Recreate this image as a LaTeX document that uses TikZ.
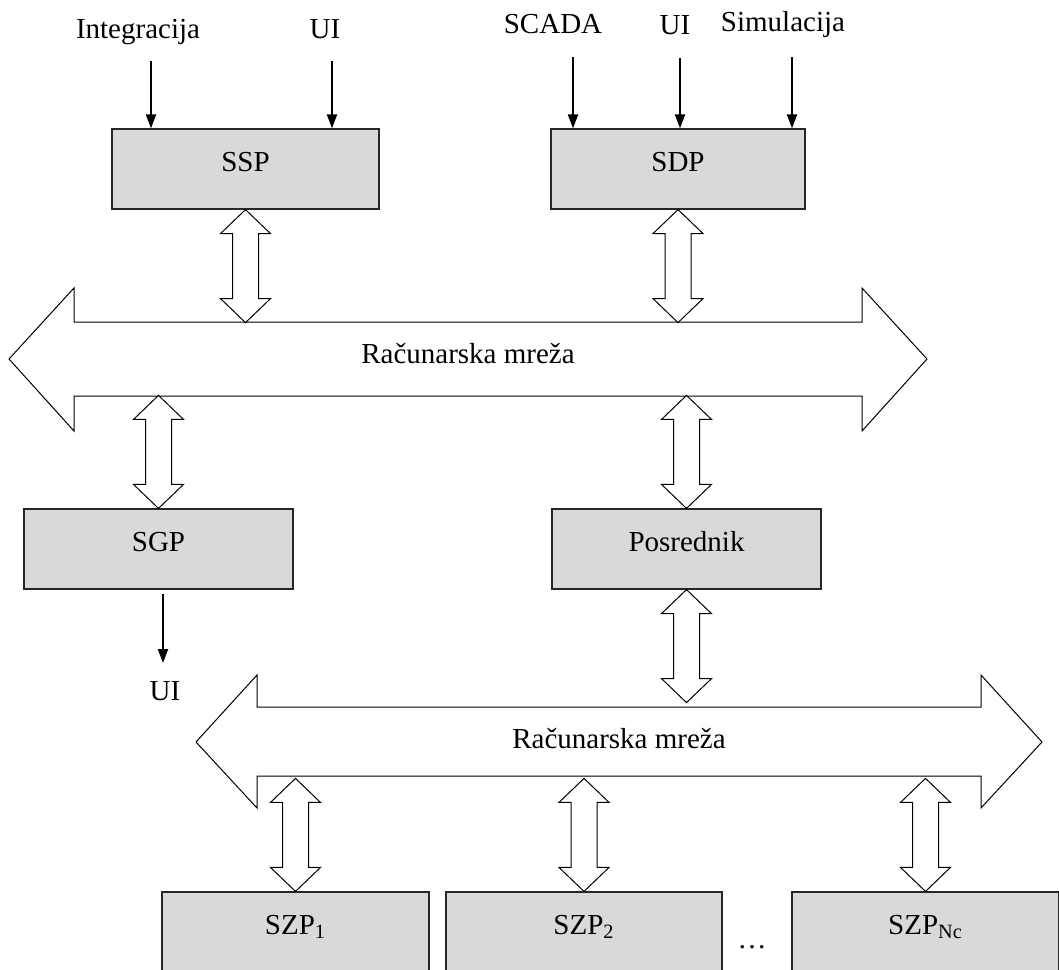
\documentclass[tikz,border=0pt]{standalone}
\usepackage{fontspec}
\setmainfont{Liberation Serif}
\usepackage{tikz}
\usetikzlibrary{arrows.meta}
\usetikzlibrary{calc}

\definecolor{boxgray}{HTML}{D9D9D9}

\begin{document}
\begin{tikzpicture}[x=0.5pt, y=-0.5pt,
    font=\fontsize{14.5}{17}\selectfont,
    procbox/.style={draw=black!85, line width=0.6pt, fill=boxgray, minimum height=40pt, text height=9.6pt, text depth=7pt, inner sep=0pt},
    sigarrow/.style={line width=1pt, -{Triangle[length=7pt, width=5pt]}},
    netshape/.style={draw, line width=0.5pt, fill=white},
    dblarrow/.pic={\draw[netshape] (0,0) -- (25,24) -- (13,24) -- (13,89) -- (25,89) -- (0,113) -- (-25,89) -- (-13,89) -- (-13,24) -- (-25,24) -- cycle;}]
          \useasboundingbox (0,0) rectangle (1059,969);
          \clip (0,0) rectangle (1059,969);

          \node[procbox, minimum width=133.5pt] (ssp) at (245.5,169) {SSP}; % Draws a box
          \node[procbox, minimum width=127pt] (sdp) at (678,169) {SDP}; % Draws a box

          \node[anchor=base] (lintegr) at (138,39) {Integracija};
          \node[anchor=base] (lui1) at (325,39) {UI};
          \node[anchor=base] (lscada) at (553,33) {SCADA};
          \node[anchor=base] (lui2) at (675,34) {UI};
          \node[anchor=base] (lsim) at (783,32) {Simulacija};

          \coordinate (in1) at (151,61);
          \coordinate (in2) at (332,61);
          \coordinate (in3) at (573,57);
          \coordinate (in4) at (680,58);
          \coordinate (in5) at (792,57);

          \draw[sigarrow] (in1) -- (in1 |- ssp.north);
          \draw[sigarrow] (in2) -- (in2 |- ssp.north);
          \draw[sigarrow] (in3) -- (in3 |- sdp.north);
          \draw[sigarrow] (in4) -- (in4 |- sdp.north);
          \draw[sigarrow] (in5) -- (in5 |- sdp.north);

          % upper network
          \draw[netshape] (9,359) -- (74,288) -- (74,322) -- (862,322) -- (862,288) -- (927,359)
            -- (862,431) -- (862,396) -- (74,396) -- (74,431) -- cycle;
          \node[anchor=base] (net1) at (468,363) {Računarska mreža};

          \node[procbox, minimum width=134.5pt] (sgp) at (158.5,549) {SGP}; % Draws a box
          \node[procbox, minimum width=134.5pt] (posrednik) at (686.5,549) {Posrednik}; % Draws a box

          \coordinate (uiout) at (163,663);
          \draw[sigarrow] (sgp.south -| uiout) ++(0,4) -- (uiout);
          \node[anchor=base] (lui3) at (165,700) {UI};

          % lower network
          \draw[netshape] (196,742) -- (257,675) -- (257,707) -- (981,707) -- (981,675) -- (1042,742)
            -- (981,808) -- (981,776) -- (257,776) -- (257,808) -- cycle;
          \node[anchor=base] (net2) at (619,748) {Računarska mreža};

          \node[procbox, minimum width=133.5pt] (szp1) at (295.5,932) {SZP\textsubscript{1}}; % Draws a box
          \node[procbox, minimum width=138pt] (szp2) at (584,932) {SZP\textsubscript{2}}; % Draws a box
          \node[procbox, minimum width=133.5pt] (szpn) at (925.5,932) {SZP\textsubscript{Nc}}; % Draws a box
          \node[anchor=base] (dots) at (752,948) {\ldots};

          \pic at (ssp.south) {dblarrow};
          \pic at (sdp.south) {dblarrow};
          \pic at ([yshift=56.5pt]sgp.north) {dblarrow};
          \pic at ([yshift=56.5pt]posrednik.north) {dblarrow};
          \pic at (posrednik.south) {dblarrow};
          \pic at ([yshift=56.5pt]szp1.north) {dblarrow};
          \pic at ([yshift=56.5pt]szp2.north) {dblarrow};
          \pic at ([yshift=56.5pt]szpn.north) {dblarrow};
        \end{tikzpicture}
\end{document}
